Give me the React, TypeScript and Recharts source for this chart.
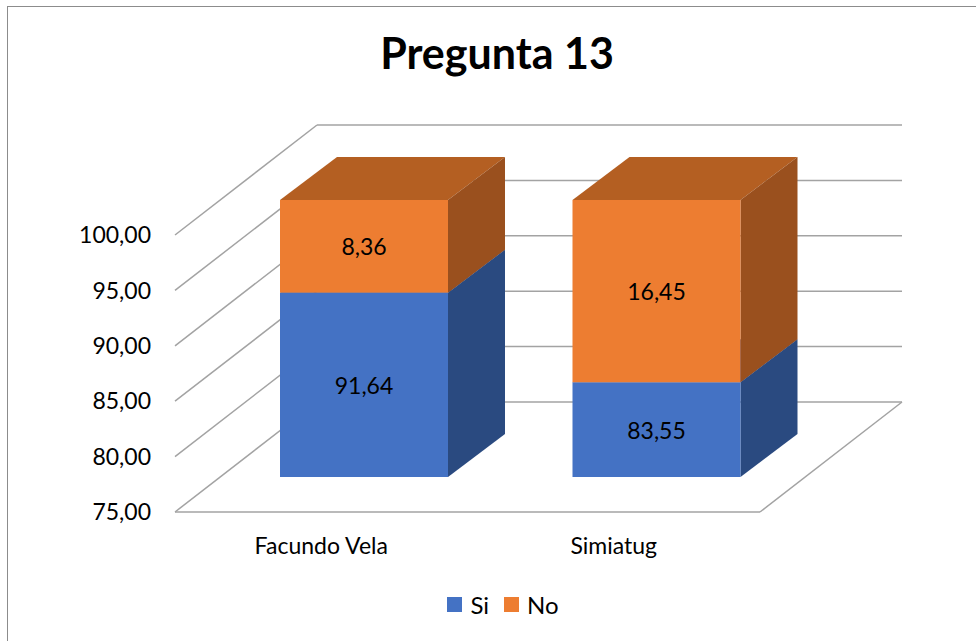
import { Bar, BarChart, CartesianGrid, LabelList, Legend, XAxis, YAxis } from 'recharts';

const categories = ['Facundo Vela', 'Simiatug'];
const si = [91.64, 83.55];
const no = [8.36, 16.45];
const yTicks = [75, 80, 85, 90, 95, 100];

const FONT = 'Lato, "Open Sans", sans-serif';

// chart box
const W = 976;
const H = 641;
const MARGIN = { top: 235, right: 216, bottom: 20, left: 0 };
const PLOT_LEFT = 175;
const PLOT_BOTTOM = 512;

// perspective offsets
const WALL_DX = 142;
const WALL_DY = 110;
const BAR_SHIFT_X = 43;
const BAR_SHIFT_Y = 35;
const BAR_DX = 57;
const BAR_DY = 43;

const GRID = '#a3a3a3';

const base = yTicks[0];
const data = categories.map((name, i) => ({
	name,
	si: si[i],
	no: no[i],
	siRange: [base, si[i]],
	noRange: [si[i], si[i] + no[i]],
}));

const fmt = (v: number) => v.toFixed(2).replace('.', ',');

const makeShape = (front: string, top: string, side: string) => (props: any) => {
	const { x, y, width, height } = props;
	const X = x + BAR_SHIFT_X;
	const Y = y - BAR_SHIFT_Y;
	return (
		<g>
			<polygon
				points={`${X},${Y} ${X + BAR_DX},${Y - BAR_DY} ${X + width + BAR_DX},${Y - BAR_DY} ${X + width},${Y}`}
				fill={top}
			/>
			<polygon
				points={`${X + width},${Y} ${X + width + BAR_DX},${Y - BAR_DY} ${X + width + BAR_DX},${Y + height - BAR_DY} ${X + width},${Y + height}`}
				fill={side}
			/>
			<rect x={X} y={Y} width={width} height={height} fill={front} />
		</g>
	);
};

const gridLine = (props: any) => {
	const { y1, x1, x2, index } = props;
	const isFloor = Math.abs(y1 - PLOT_BOTTOM) < 1;
	return (
		<g key={`g-${index}`}>
			<line x1={x1} y1={y1} x2={x1 + WALL_DX} y2={y1 - WALL_DY} stroke={GRID} strokeWidth={1.5} />
			<line
				x1={x1 + WALL_DX}
				y1={y1 - WALL_DY}
				x2={x2 + WALL_DX}
				y2={y1 - WALL_DY}
				stroke={GRID}
				strokeWidth={1.5}
			/>
			{isFloor && (
				<>
					<line x1={x1} y1={y1} x2={x2} y2={y1} stroke={GRID} strokeWidth={1.5} />
					<line x1={x2} y1={y1} x2={x2 + WALL_DX} y2={y1 - WALL_DY} stroke={GRID} strokeWidth={1.5} />
				</>
			)}
		</g>
	);
};

const valueLabel = (props: any) => {
	const { x, y, width, height, value } = props;
	return (
		<text
			x={x + width / 2 + BAR_SHIFT_X}
			y={y + height / 2 - BAR_SHIFT_Y}
			textAnchor='middle'
			dominantBaseline='central'
			fontSize={23}
			fontFamily={FONT}
			fill='#000'
		>
			{fmt(value)}
		</text>
	);
};

const LegendContent = () => (
	<div
		style={{
			display: 'flex',
			justifyContent: 'center',
			alignItems: 'center',
			height: 34,
			fontFamily: FONT,
			fontSize: 24,
			paddingLeft: 30,
		}}
	>
		<span style={{ width: 15, height: 15, background: '#4472c4', marginRight: 8 }} />
		<span style={{ marginRight: 15 }}>Si</span>
		<span style={{ width: 15, height: 15, background: '#ed7d31', marginRight: 8 }} />
		<span>No</span>
	</div>
);

const App = () => {
	return (
		<div style={{ position: 'fixed', left: 0, top: 0, width: W, height: H, background: '#fff' }}>
			<div
				style={{
					position: 'absolute',
					left: 7,
					top: 6,
					width: W,
					height: H,
					border: '1.5px solid #8c8c8c',
				}}
			/>
			<div
				style={{
					position: 'absolute',
					left: 0,
					top: 28,
					width: 994,
					textAlign: 'center',
					fontFamily: FONT,
					fontWeight: 700,
					fontSize: 43,
					lineHeight: '50px',
				}}
			>
				Pregunta 13
			</div>
			<BarChart width={W} height={H} data={data} margin={MARGIN} barGap={-168} style={{ position: 'absolute', left: 0, top: 0 }}>
				<CartesianGrid vertical={false} horizontal={gridLine} />
				<XAxis
					dataKey='name'
					height={H - MARGIN.bottom - 34 - PLOT_BOTTOM}
					axisLine={false}
					tickLine={false}
					tickMargin={20}
					tick={{ fontSize: 23, fontFamily: FONT, fill: '#000' }}
				/>
				<YAxis
					width={PLOT_LEFT}
					domain={[yTicks[0], yTicks[yTicks.length - 1]]}
					ticks={yTicks}
					interval={0}
					axisLine={false}
					tickLine={false}
					tickMargin={18}
					tickFormatter={fmt}
					tick={{ fontSize: 23, fontFamily: FONT, fill: '#000' }}
				/>
				<Bar
					dataKey='siRange'
					name='Si'
					barSize={168}
					fill='#4472c4'
					shape={makeShape('#4472c4', '#335ba3', '#2a4a80')}
					isAnimationActive={false}
				>
					<LabelList dataKey='si' content={valueLabel} />
				</Bar>
				<Bar
					dataKey='noRange'
					name='No'
					barSize={168}
					fill='#ed7d31'
					shape={makeShape('#ed7d31', '#b45f22', '#9a501e')}
					isAnimationActive={false}
				>
					<LabelList dataKey='no' content={valueLabel} />
				</Bar>
				<Legend
					verticalAlign='bottom'
					height={34}
					wrapperStyle={{ left: 0, width: W }}
					content={<LegendContent />}
				/>
			</BarChart>
		</div>
	);
};

export default App;
